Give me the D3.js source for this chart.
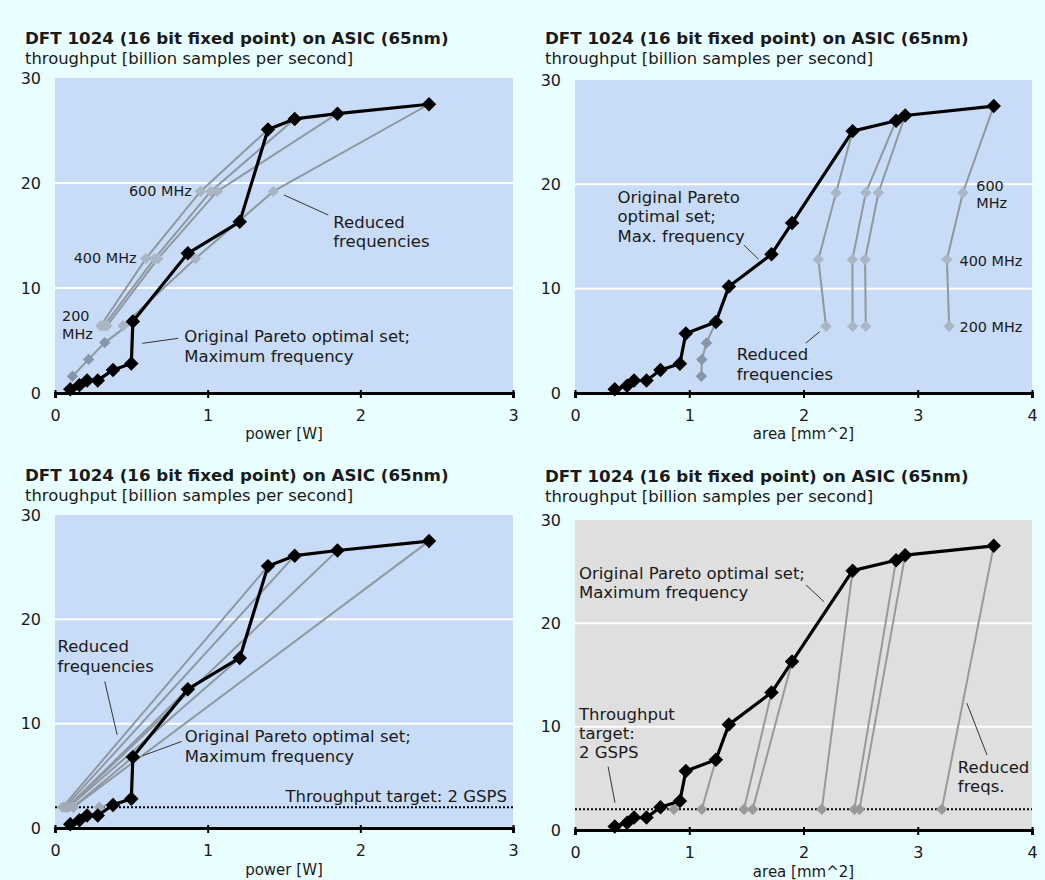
<!DOCTYPE html>
<html>
<head>
<meta charset="utf-8">
<script src="https://cdn.jsdelivr.net/npm/d3@7"></script>
<style>
  body { margin: 0; background: #e9ffff; }
  svg { display: block; }
  text { font-family: "DejaVu Sans", Verdana, sans-serif; fill: #1a1a1a; }
</style>
</head>
<body>
<div id="chart"></div>
<script>
// Page colours
const pageColor = "#e9ffff";
const plotBlue = "#c8dcf8";
const plotGray = "#dfdfdf";

// Pareto optimal designs at maximum frequency (power chart)
const powerParetoX = [0.10, 0.16, 0.21, 0.28, 0.38, 0.50, 0.51, 0.87, 1.21, 1.395, 1.57, 1.85, 2.45];
const powerParetoY = [0.35, 0.75, 1.2, 1.2, 2.2, 2.8, 6.8, 13.3, 16.3, 25.1, 26.1, 26.6, 27.5];

// Pareto optimal designs at maximum frequency (area chart)
const areaParetoX = [0.348, 0.456, 0.517, 0.626, 0.748, 0.918, 0.97, 1.233, 1.347, 1.72, 1.9, 2.43, 2.81, 2.89, 3.665];
const areaParetoY = [0.35, 0.7, 1.2, 1.2, 2.2, 2.8, 5.7, 6.8, 10.2, 13.3, 16.3, 25.1, 26.1, 26.6, 27.5];

// Reduced frequencies 600 / 400 / 200 MHz
const reducedY = [19.2, 12.8, 6.4];
const reducedSmallY = [4.8, 3.2, 1.6]; // design with 6.8 GSPS
const reducedDesignsPower = [9, 10, 11, 12]; // index into powerPareto
const reducedPowerX = [
  [0.953, 0.595, 0.30],
  [1.02, 0.652, 0.32],
  [1.062, 0.675, 0.34],
  [1.43, 0.92, 0.446]
];
const reducedSmallPowerX = [0.326, 0.22, 0.114];
const reducedDesignsArea = [11, 12, 13, 14];
const reducedAreaX = [
  [2.285, 2.13, 2.197],
  [2.545, 2.428, 2.43],
  [2.656, 2.539, 2.545],
  [3.395, 3.255, 3.275]
];
const reducedSmallAreaX = [1.151, 1.11, 1.106];

// Throughput target 2 GSPS
const target = 2;
const targetDesignsPower = [5, 6, 7, 8, 9, 10, 11, 12];
const targetPowerX = [0.29, 0.12, 0.08, 0.09, 0.05, 0.065, 0.085, 0.12];
const targetDesignsArea = [5, 7, 9, 10, 11, 12, 13, 14];
const targetAreaX = [0.865, 1.11, 1.479, 1.555, 2.16, 2.445, 2.49, 3.21];

const yTicks = [0, 10, 20, 30];
const powerTicks = [0, 1, 2, 3];
const areaTicks = [0, 1, 2, 3, 4];

const title = "DFT 1024 (16 bit fixed point) on ASIC (65nm)";
const subtitle = "throughput [billion samples per second]";

const svg = d3.select("#chart").append("svg")
  .attr("width", 1045).attr("height", 880)
  .style("background", pageColor);

const lineGray = "#8f979f";
const markLight = "#aab6c4";
const markDark = "#8695a8";

function diamond(g, x, y, size, color) {
  g.append("path")
    .attr("d", d3.symbol(d3.symbolSquare, size)())
    .attr("transform", `translate(${x},${y}) rotate(45)`)
    .attr("fill", color);
}

function panel(cfg) {
  const g = svg.append("g");
  const x = d3.scaleLinear().domain([0, cfg.xMax]).range([cfg.left, cfg.right]);
  const y = d3.scaleLinear().domain([0, 30]).range([cfg.bottom, cfg.top]);

  g.append("text").attr("x", cfg.titleX).attr("y", cfg.titleY)
    .attr("dy", "0.35em").style("font-weight", "bold").style("font-size", "16.7px")
    .text(title);
  g.append("text").attr("x", cfg.titleX).attr("y", cfg.titleY + 20)
    .attr("dy", "0.35em").style("font-size", "16.4px").text(subtitle);

  g.append("rect").attr("x", cfg.left).attr("y", cfg.top)
    .attr("width", cfg.right - cfg.left).attr("height", cfg.bottom - cfg.top)
    .attr("fill", cfg.bg);

  // grid
  g.selectAll(".grid").data([10, 20]).enter().append("line")
    .attr("x1", cfg.left).attr("x2", cfg.right)
    .attr("y1", d => y(d)).attr("y2", d => y(d))
    .attr("stroke", "#fff").attr("stroke-width", 2);

  // y labels
  const ya = g.append("g").attr("transform", `translate(${cfg.left - 14},0)`)
    .call(d3.axisLeft(y).tickValues(yTicks).tickSize(0).tickPadding(0));
  ya.select(".domain").remove();
  ya.selectAll("text").style("font-size", "16px").style("font-family", "DejaVu Sans").attr("fill", "#1a1a1a");

  // target line
  if (cfg.target) {
    g.append("line").attr("x1", cfg.left).attr("x2", cfg.right)
      .attr("y1", y(target)).attr("y2", y(target))
      .attr("stroke", "#000").attr("stroke-width", 2).attr("stroke-dasharray", "2,2");
  }

  cfg.draw(g, x, y);

  // x axis
  const xa = g.append("g").attr("transform", `translate(0,${cfg.bottom})`)
    .call(d3.axisBottom(x).tickValues(cfg.ticks).tickSize(5).tickPadding(12).tickFormat(d3.format("d")));
  xa.select(".domain").attr("stroke", "#000").attr("stroke-width", 3);
  xa.selectAll(".tick line").attr("stroke", "#000").attr("stroke-width", 2).attr("y1", -3);
  xa.selectAll("text").style("font-size", "16px").style("font-family", "DejaVu Sans").attr("fill", "#1a1a1a");
  g.append("text").attr("x", (cfg.left + cfg.right) / 2).attr("y", cfg.bottom + cfg.xLabelDy)
    .attr("dy", "0.35em").attr("text-anchor", "middle").style("font-size", "15px").text(cfg.xLabel);

  // annotations
  cfg.notes.forEach(n => {
    n.lines.forEach((t, i) => {
      g.append("text").attr("x", x(n.x)).attr("y", y(n.y[i])).attr("dy", "0.35em")
        .attr("text-anchor", n.anchor || "start").style("font-size", (n.size || 16.5) + "px")
        .attr("fill", "#222").text(t);
    });
  });
  cfg.leaders.forEach(l => {
    g.append("line").attr("x1", x(l[0])).attr("y1", y(l[1])).attr("x2", x(l[2])).attr("y2", y(l[3]))
      .attr("stroke", "#333").attr("stroke-width", 1);
  });
}

function drawPareto(g, x, y, px, py) {
  const line = d3.line().x(d => x(d[0])).y(d => y(d[1]));
  const pts = px.map((v, i) => [v, py[i]]);
  g.append("path").attr("d", line(pts)).attr("fill", "none")
    .attr("stroke", "#000").attr("stroke-width", 3.2).attr("stroke-linejoin", "round");
  pts.forEach(p => diamond(g, x(p[0]), y(p[1]), 105, "#000"));
}

function drawReduced(g, x, y, px, py, designs, redX, smallX, smallDesign) {
  const line = d3.line().x(d => x(d[0])).y(d => y(d[1]));
  designs.forEach((di, k) => {
    const pts = [[px[di], py[di]]].concat(redX[k].map((v, i) => [v, reducedY[i]]));
    g.append("path").attr("d", line(pts)).attr("fill", "none")
      .attr("stroke", lineGray).attr("stroke-width", 2);
  });
  const spts = [[px[smallDesign], py[smallDesign]]].concat(smallX.map((v, i) => [v, reducedSmallY[i]]));
  g.append("path").attr("d", line(spts)).attr("fill", "none")
    .attr("stroke", lineGray).attr("stroke-width", 2);
  designs.forEach((di, k) => redX[k].forEach((v, i) => diamond(g, x(v), y(reducedY[i]), 65, markLight)));
  smallX.forEach((v, i) => diamond(g, x(v), y(reducedSmallY[i]), 65, markDark));
}

function drawTarget(g, x, y, px, py, designs, tx, lc, mc) {
  designs.forEach((di, k) => {
    g.append("line").attr("x1", x(px[di])).attr("y1", y(py[di]))
      .attr("x2", x(tx[k])).attr("y2", y(target))
      .attr("stroke", lc).attr("stroke-width", 2);
  });
  tx.forEach(v => diamond(g, x(v), y(target), 65, mc));
}

// top left: power
panel({
  left: 55, right: 513, top: 78, bottom: 393, xMax: 3, ticks: powerTicks, bg: plotBlue,
  titleX: 25, titleY: 38, xLabel: "power [W]", xLabelDy: 41,
  draw: (g, x, y) => {
    drawReduced(g, x, y, powerParetoX, powerParetoY, reducedDesignsPower, reducedPowerX, reducedSmallPowerX, 6);
    drawPareto(g, x, y, powerParetoX, powerParetoY);
  },
  notes: [
    { lines: ["600 MHz"], x: 0.896, y: [19.27], anchor: "end", size: 14.4 },
    { lines: ["400 MHz"], x: 0.534, y: [12.89], anchor: "end", size: 14.4 },
    { lines: ["200", "MHz"], x: 0.046, y: [7.3, 5.65], size: 14.4 },
    { lines: ["Reduced", "frequencies"], x: 1.823, y: [16.31, 14.5] },
    { lines: ["Original Pareto optimal set;", "Maximum frequency"], x: 0.846, y: [5.36, 3.52] }
  ],
  leaders: [[1.50, 18.86, 1.79, 16.95], [0.573, 4.73, 0.807, 5.21]]
});

// top right: area
panel({
  left: 575, right: 1032, top: 80, bottom: 393, xMax: 4, ticks: areaTicks, bg: plotBlue,
  titleX: 545, titleY: 38, xLabel: "area [mm^2]", xLabelDy: 41,
  draw: (g, x, y) => {
    drawReduced(g, x, y, areaParetoX, areaParetoY, reducedDesignsArea, reducedAreaX, reducedSmallAreaX, 7);
    drawPareto(g, x, y, areaParetoX, areaParetoY);
  },
  notes: [
    { lines: ["Original Pareto", "optimal set;", "Max. frequency"], x: 0.372, y: [18.76, 16.9, 15.05] },
    { lines: ["600", "MHz"], x: 3.512, y: [19.88, 18.19], size: 14.4 },
    { lines: ["400 MHz"], x: 3.366, y: [12.68], size: 14.4 },
    { lines: ["200 MHz"], x: 3.366, y: [6.3], size: 14.4 },
    { lines: ["Reduced", "frequencies"], x: 1.415, y: [3.74, 1.82] }
  ],
  leaders: [[1.478, 14.19, 1.607, 12.82], [2.019, 4.77, 2.142, 5.88]]
});

// bottom left: power with target
panel({
  left: 55, right: 513, top: 515, bottom: 828, xMax: 3, ticks: powerTicks, bg: plotBlue,
  titleX: 25, titleY: 475, xLabel: "power [W]", xLabelDy: 42, target: true,
  draw: (g, x, y) => {
    drawTarget(g, x, y, powerParetoX, powerParetoY, targetDesignsPower, targetPowerX, lineGray, "#a3acb6");
    drawPareto(g, x, y, powerParetoX, powerParetoY);
  },
  notes: [
    { lines: ["Reduced", "frequencies"], x: 0.016, y: [17.43, 15.52] },
    { lines: ["Original Pareto optimal set;", "Maximum frequency"], x: 0.85, y: [8.77, 6.86] },
    { lines: ["Throughput target: 2 GSPS"], x: 2.96, y: [3.09], anchor: "end" }
  ],
  leaders: [[0.326, 14.04, 0.407, 8.93], [0.829, 8.29, 0.573, 6.92]]
});

// bottom right: area with target
panel({
  left: 575, right: 1032, top: 520, bottom: 830, xMax: 4, ticks: areaTicks, bg: plotGray,
  titleX: 545, titleY: 476, xLabel: "area [mm^2]", xLabelDy: 42, target: true,
  draw: (g, x, y) => {
    drawTarget(g, x, y, areaParetoX, areaParetoY, targetDesignsArea, targetAreaX, "#999", "#999");
    drawPareto(g, x, y, areaParetoX, areaParetoY);
  },
  notes: [
    { lines: ["Original Pareto optimal set;", "Maximum frequency"], x: 0.035, y: [24.85, 22.97] },
    { lines: ["Throughput", "target:", "2 GSPS"], x: 0.035, y: [11.23, 9.36, 7.48] },
    { lines: ["Reduced", "freqs."], x: 3.351, y: [6.07, 4.19] }
  ],
  leaders: [[2.022, 23.71, 2.18, 22.09], [0.29, 6.13, 0.35, 2.64], [3.43, 12.27, 3.606, 7.26]]
});
</script>
</body>
</html>
